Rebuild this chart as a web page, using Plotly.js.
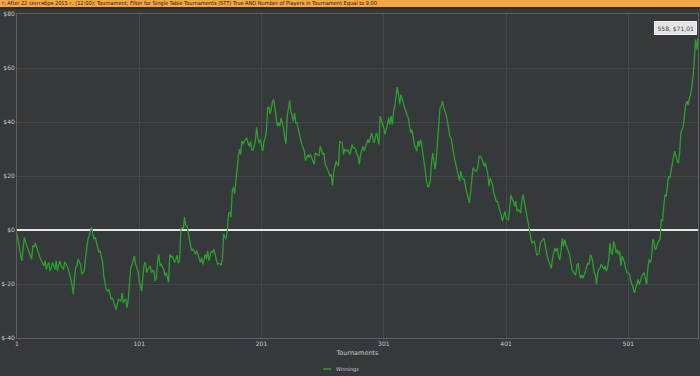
<!DOCTYPE html>
<html>
<head>
<meta charset="utf-8">
<script src="https://cdn.plot.ly/plotly-3.0.1.min.js"></script>
<style>
html,body{margin:0;padding:0;background:#36393c;}
#chart{width:700px;height:376px;}
</style>
</head>
<body>
<div id="chart"></div>
<script>
const filterTitle = "r: After 22 сентября 2015 г. (12:00); Tournament; Filter for Single Table Tournaments (STT) True AND Number of Players in Tournament Equal to 9.00";
const seriesName = "Winnings";
const xTitle = "Tournaments";
const xTickVals = [1, 101, 201, 301, 401, 501];
const xTickText = ["1", "101", "201", "301", "401", "501"];
const yTickVals = [-40, -20, 0, 20, 40, 60, 80];
const yTickText = ["$-40", "$-20", "$0", "$20", "$40", "$60", "$80"];

const winnings = [
-1.5,-4.5,-7.5,-9.5,-11.4,-6,-2.7,-4.5,-5.8,-7,
-8.3,-9.5,-10.8,-5.8,-6.2,-4.9,-6.5,-7.7,-9,-10.5,
-11.4,-12.5,-13.3,-11.4,-14.6,-13,-12,-15.2,-14,-12,
-13.5,-14.6,-11.4,-15.2,-13,-11.4,-13.3,-14,-14.6,-11.8,
-12.5,-13.3,-14.6,-16,-18.3,-20.5,-23.9,-18,-13.9,-13.3,
-10.6,-12,-12.7,-16.4,-15.5,-15.2,-10.8,-6,-3.5,-2.1,
-0.9,1,-1.5,-3.4,-2.7,-4.5,-6.5,-8.3,-7.7,-10,
-12,-17,-19.5,-22,-22.6,-22,-23.5,-25.7,-25.1,-26.5,
-27.6,-29.5,-27.5,-25.7,-26,-26.4,-23.3,-27,-26,-25.7,
-28.9,-25.7,-20,-13.9,-13,-11,-9.6,-12.7,-14,-15.2,
-18.9,-21,-22.6,-17,-12.7,-12,-15.8,-14.6,-14,-13.3,
-15.8,-15,-15.2,-18.9,-18,-11.4,-9,-13.3,-12.7,-14,
-14.6,-17,-15.8,-17.5,-19.3,-9,-10.2,-9.6,-11,-12,
-10.8,-9.3,-12.3,-10.8,-0.2,1,0.4,4.7,1.6,1.6,
-0.9,-4,-5.8,-7.7,-7.1,-8,-9,-7.7,-9,-10.2,
-12,-10.2,-12.7,-11,-9,-10.8,-7.7,-11.4,-9.5,-7.7,
-8.3,-7.1,-9,-10.8,-12.7,-12.3,-12.5,-13.1,-10.8,-1.5,
-2.5,-3.4,-0.2,6,6.6,4.7,14,15.9,13.4,18.4,
22.8,27,30,28,33,31.7,33,33.5,34.1,32,
31,32.8,29.8,29.5,31,33.5,38,34.1,32.3,33.5,
31,29.2,32.8,34.1,36.6,45.2,45.5,43,45,47.7,
48.3,45.2,42.8,38.4,39.7,38.4,41.5,39.5,37.8,34.1,
31.9,42.1,44.6,47.9,44,42,40.3,43.4,39.7,39.7,
37.2,34.8,33.5,31.7,30.5,29.2,25.7,27,28,26.8,
28,26.8,25.5,24.3,28.6,28,28,27.4,31,29.5,
28,28.6,24.3,23.5,22.5,21.2,20,20.6,16.5,21.2,
23,25.5,24.3,23.7,32.8,32.5,32.3,28,29.8,29.5,
29.2,29.8,28,29,31.7,30.5,30.5,29.8,28,27.4,
24.3,28,30,31,29.2,30.5,31.7,33.5,32.3,34,
36,34.1,32.3,34,36,34.1,31.7,42.2,40.9,39.7,
37.8,35.4,37,39.1,41.6,39.1,42.2,39.1,44,45.9,
49.6,52.9,50.2,46.5,50.2,49,47.1,45.3,43.4,42.5,
41.6,39.1,36,37.2,34.1,31.7,30.5,29.2,32.9,31,
33.5,31.7,28,25.5,21.8,18.1,15.9,16.5,18.1,24.9,
28.6,25.5,22.4,26.7,34.1,40.3,45.3,45.9,47.7,45.3,
44,42.8,40.3,37.2,34.8,34.1,31,27.9,26.1,24.2,
22.4,20,18.1,21.8,19.5,18.7,18.7,15.6,14,12.5,
10.1,14,18.1,23,22.4,21.8,21.8,23.6,27.3,27.3,
26.5,25.5,23.6,24.9,23,21.1,16.2,19.3,18,16.8,
13.7,12,10.6,10.6,8.1,7,5.7,3.2,5.1,6.9,
4.4,4,3.8,8.1,13.1,11.5,10.6,8.8,10.6,6.9,
7.5,7,6.3,11.2,13.1,10.5,8.1,6.3,3.2,1,
-1.1,-4.8,-4.5,-4.2,-6.1,-9.2,-9,-8.6,-4.8,-4.2,
-3.6,-3,-5.5,-8.6,-10.4,-11.7,-13.5,-14.2,-10.4,-8,
-6.7,-7.9,-6.7,-9.8,-11.1,-7.4,-3,-6.1,-3.6,-5.5,
-6.5,-7.9,-9.2,-11.7,-14.8,-15.4,-16,-16.7,-12.9,-12.3,
-16,-17.9,-16.7,-17.9,-16.5,-15.4,-13.5,-12.3,-12.7,-9.2,
-10,-12.1,-15.8,-16.4,-20.1,-15.8,-14.5,-14,-12.7,-14,
-14.6,-13.3,-15.2,-14,-10.9,-4.8,-8.5,-9.1,-4.2,-5.5,
-8.5,-7.3,-9.1,-7.9,-13.3,-9.7,-11,-12.1,-14.6,-15.8,
-16,-16.4,-18.9,-20.8,-21.5,-23.3,-22,-20.1,-18.3,-20.1,
-18.9,-17.1,-16.5,-15.8,-18.3,-20.1,-14,-10.9,-12.1,-10.3,
-3.5,-4.2,-7.3,-6.7,-4.8,-4,-3.5,3.9,3.3,8.8,
13.1,12.5,17.5,19.9,19.3,22.4,23.6,27.3,29.2,27.3,
25.5,24.8,28.6,36,37.2,38.4,42.7,46.4,47.7,46.4,
48.9,50.2,53.3,57,63,70.5,66.8,71.01
];
const tournaments = winnings.map((_, i) => i + 1);

const lastX = tournaments[tournaments.length - 1];
const lastY = winnings[winnings.length - 1];
const tipText = lastX + ", $" + lastY.toFixed(2).replace(".", ",");

const bg = "#36393c";
const gridCol = "#45484b";
const lineCol = "#5e6164";
const textCol = "#c8c8c8";
const green = "#2e9f2e";
const fontFam = "DejaVu Sans, Verdana, sans-serif";

const trace = {
  x: tournaments,
  y: winnings,
  type: "scatter",
  mode: "lines",
  name: seriesName,
  showlegend: false,
  line: {color: green, width: 1.3},
  hoverinfo: "skip"
};

// plot area: x 17..698 px, y 14..338 px (paper units below)
const pw = 681, ph = 324;
const legendY = (338 - 369) / ph;

const layout = {
  width: 700,
  height: 376,
  paper_bgcolor: bg,
  plot_bgcolor: bg,
  margin: {l: 17, r: 2, t: 14, b: 38, pad: 0},
  showlegend: false,
  xaxis: {
    range: [1, 558],
    tickmode: "array", tickvals: xTickVals, ticktext: xTickText,
    showgrid: true, gridcolor: gridCol, gridwidth: 1,
    zeroline: false,
    showline: true, linecolor: lineCol, linewidth: 1, mirror: true,
    ticks: "", tickfont: {family: fontFam, size: 6, color: textCol},
    title: {text: xTitle, font: {family: fontFam, size: 6.5, color: textCol}, standoff: 4},
    automargin: false, fixedrange: true
  },
  yaxis: {
    range: [-40, 80],
    tickmode: "array", tickvals: yTickVals, ticktext: yTickText,
    showgrid: true, gridcolor: gridCol, gridwidth: 1,
    zeroline: true, zerolinecolor: "#e6e6e6", zerolinewidth: 2,
    showline: true, linecolor: lineCol, linewidth: 1, mirror: true,
    ticks: "", tickfont: {family: fontFam, size: 6, color: textCol},
    automargin: false, fixedrange: true
  },
  shapes: [
    {type: "rect", xref: "paper", yref: "paper", x0: -0.03, x1: 1.01,
     y0: 1 + 5/ph, y1: 1 + 15/ph, fillcolor: "#2a2c2e", line: {width: 0}, layer: "above"},
    {type: "rect", xref: "paper", yref: "paper", x0: -0.03, x1: 1.01,
     y0: 1 + 7/ph, y1: 1 + 15/ph, fillcolor: "#f2a944", line: {width: 0}, layer: "above"},
    // legend swatch
    {type: "line", xref: "paper", yref: "paper", x0: (323 - 17) / pw, x1: (331 - 17) / pw,
     y0: legendY, y1: legendY, line: {color: green, width: 1.5}}
  ],
  annotations: [
    {xref: "paper", yref: "paper", x: -17/pw, y: 1 + 10.5/ph, xanchor: "left", yanchor: "middle",
     text: filterTitle, showarrow: false,
     font: {family: "Liberation Sans Narrow, Arial Narrow, DejaVu Sans Condensed, sans-serif", size: 5.6, color: "#1a1a1a"}},
    {xref: "paper", yref: "paper", x: (334 - 17) / pw, y: legendY, xanchor: "left", yanchor: "middle",
     text: seriesName, showarrow: false,
     font: {family: fontFam, size: 5, color: textCol}},
    {xref: "x", yref: "y", x: lastX, y: lastY, xanchor: "right", yanchor: "bottom",
     xshift: -1, yshift: 3, text: tipText, showarrow: false,
     bgcolor: "#e4e4e4", bordercolor: "#f4f4f4", borderwidth: 1, borderpad: 2.5,
     font: {family: fontFam, size: 6, color: "#444"}}
  ]
};

Plotly.newPlot("chart", [trace], layout, {displayModeBar: false, staticPlot: true});
</script>
</body>
</html>
